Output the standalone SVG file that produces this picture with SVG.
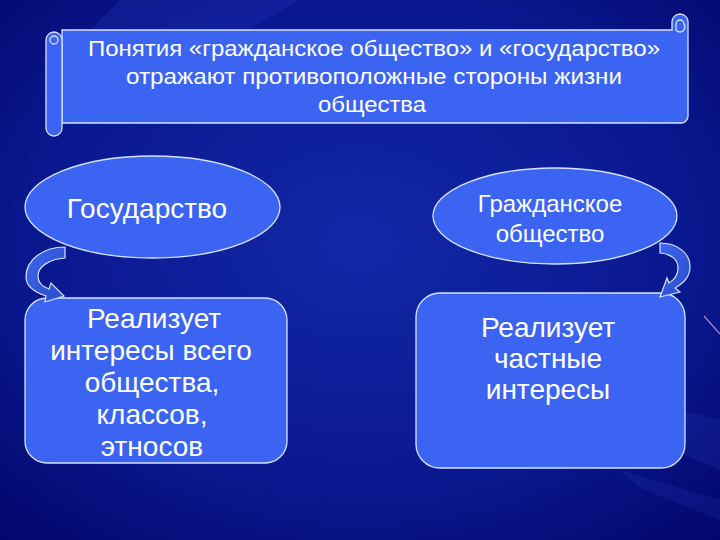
<svg xmlns="http://www.w3.org/2000/svg" width="720" height="540" viewBox="0 0 720 540">
<defs>
<radialGradient id="bg" cx="50%" cy="45%" r="75%">
<stop offset="0" stop-color="#1228a6"/>
<stop offset="0.6" stop-color="#0a1890"/>
<stop offset="1" stop-color="#03066a"/>
</radialGradient>
<linearGradient id="arr" x1="0" y1="0" x2="1" y2="1">
<stop offset="0" stop-color="#3d66f0"/>
<stop offset="1" stop-color="#2a4cc8"/>
</linearGradient>
<style>
.shape{fill:#3c64f2;stroke:#d6e2ff;stroke-width:1.3}
.arrow{fill:url(#arr);stroke:#d6e2ff;stroke-width:1.2}
.t{fill:#ffffff;font-family:"Liberation Sans",Arial,sans-serif;text-anchor:middle}
.streak{fill:#4a6cff;opacity:0.1}
</style>
</defs>
<rect width="720" height="540" fill="url(#bg)"/>
<g id="background-streaks">
<polygon class="streak" points="120,0 300,0 230,40 90,30"/>
<polygon class="streak" points="560,380 720,420 720,470 600,420"/>
<polygon class="streak" points="620,470 720,500 720,520 640,488"/>
<line x1="704" y1="316" x2="720" y2="334" stroke="#d0a0e0" stroke-width="1.2" opacity="0.8"/>
</g>
<g id="scroll">
<path class="shape" d="M62,30 L672,30 L672,22 A8,8 0 0 1 688,22 L688,116 A7,7 0 0 1 681,123 L62,123 Z"/>
<rect class="shape" x="46" y="32" width="16" height="104" rx="8"/>
<circle class="shape" cx="54" cy="40" r="4"/>
<path class="shape" d="M676,30 L676,24 A4,4 0 0 1 684,24 A4,4 0 0 1 676,30 Z"/>
<text class="t" font-size="22" x="374" y="56" textLength="572" lengthAdjust="spacingAndGlyphs">Понятия «гражданское общество» и «государство»</text>
<text class="t" font-size="22" x="374" y="84" textLength="496" lengthAdjust="spacingAndGlyphs">отражают противоположные стороны жизни</text>
<text class="t" font-size="22" x="372" y="112" textLength="108" lengthAdjust="spacingAndGlyphs">общества</text>
</g>
<g id="state">
<ellipse class="shape" cx="152.5" cy="207" rx="127.5" ry="51"/>
<text class="t" font-size="28" x="147" y="218">Государство</text>
</g>
<g id="civil-society">
<ellipse class="shape" cx="555" cy="216" rx="122" ry="48"/>
<text class="t" font-size="24" x="550" y="212">Гражданское</text>
<text class="t" font-size="24" x="550" y="242">общество</text>
</g>
<g id="state-interests">
<rect class="shape" x="25" y="298" width="262" height="165" rx="22"/>
<text class="t" font-size="28" x="154" y="328">Реализует</text>
<text class="t" font-size="28" x="151" y="360">интересы всего</text>
<text class="t" font-size="28" x="152" y="392">общества,</text>
<text class="t" font-size="28" x="152" y="424">классов,</text>
<text class="t" font-size="28" x="152" y="456">этносов</text>
</g>
<g id="private-interests">
<rect class="shape" x="416" y="293" width="269" height="175" rx="24"/>
<text class="t" font-size="28" x="548" y="337">Реализует</text>
<text class="t" font-size="28" x="548" y="368">частные</text>
<text class="t" font-size="28" x="548" y="399">интересы</text>
</g>
<g id="connectors">
<path class="arrow" d="M65,247 L65,258 C50,259 38,266 38,276 C38,283 43,287 49,289 L51,283 L64,296 L45,302 L46,296 C34,292 26,286 26,277 C26,259 44,247 65,247 Z"/>
<path class="arrow" d="M660,243 L660,253 C672,254 678,260 678,268 C678,276 674,280 669,283 L667,278 L660,297 L680,292 L675,288 C684,283 690,276 690,267 C690,252 676,243 660,243 Z"/>
</g>
</svg>
